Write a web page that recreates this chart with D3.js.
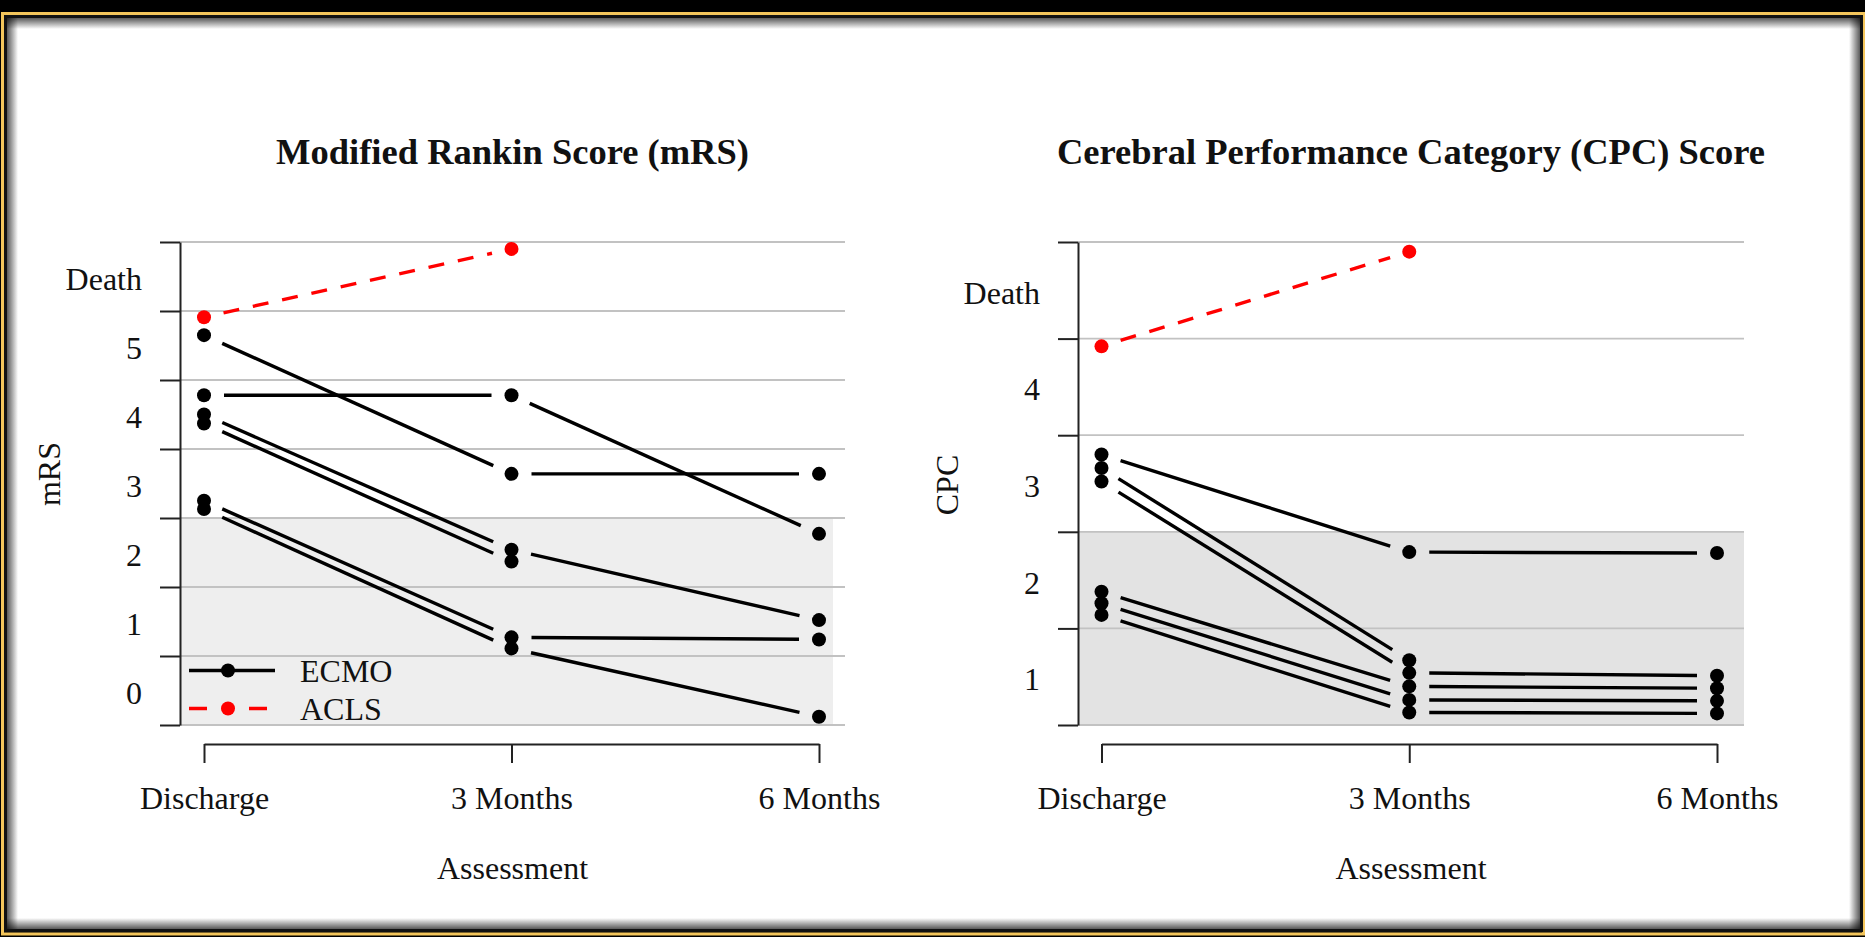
<!DOCTYPE html>
<html><head><meta charset="utf-8">
<script src="https://cdn.jsdelivr.net/npm/d3@7"></script>
<style>html,body{margin:0;padding:0;background:#000;overflow:hidden}</style>
</head><body>
<svg id="chart" width="1865" height="937"></svg>
<script>
// ---------------- data ----------------
const assessments = ["Discharge", "3 Months", "6 Months"];
const mrsTickLabels = ["0", "1", "2", "3", "4", "5", "Death"];
const mrsTickValues = [0, 1, 2, 3, 4, 5, 6];
const cpcTickLabels = ["1", "2", "3", "4", "Death"];
const cpcTickValues = [1, 2, 3, 4, 5];
const groups = ["ECMO", "ACLS"];
// plotted (jittered) score positions per patient; null = not assessed
const mrsECMO = [
  [5.15, 3.14, 3.14],
  [4.28, 4.28, 2.27],
  [4.00, 2.04, 1.02],
  [3.87, 1.87, null],
  [2.75, 0.77, 0.74],
  [2.63, 0.61, -0.38]
];
const mrsACLS = [[5.41, 6.40, null]];
const cpcECMO = [
  [3.30, 2.29, 2.28],
  [3.16, 1.17, null],
  [3.02, 1.04, 1.01],
  [1.88, 0.90, 0.88],
  [1.76, 0.76, 0.75],
  [1.64, 0.63, 0.62]
];
const cpcACLS = [[4.42, 5.40, null]];

// ---------------- drawing ----------------
const W = 1865, H = 937;
const svg = d3.select("#chart");
const FONT = "'Liberation Serif','Times New Roman',serif";
const LABEL_SIZE = 32, TITLE_SIZE = 36.5;

// frame
svg.append("rect").attr("width", W).attr("height", H).attr("fill", "#000");
svg.append("rect").attr("x", 2.5).attr("y", 13.5).attr("width", 1861).attr("height", 920.5)
  .attr("fill", "none").attr("stroke", "#f3c55b").attr("stroke-width", 3);
svg.append("rect").attr("x", 4).attr("y", 15).attr("width", 1859).attr("height", 917).attr("fill", "#111");
svg.append("rect").attr("x", 7).attr("y", 18).attr("width", 1853).attr("height", 911).attr("fill", "#fff");
const defs = svg.append("defs");
function grad(id, x1, y1, x2, y2) {
  const gr = defs.append("linearGradient").attr("id", id)
    .attr("x1", x1).attr("y1", y1).attr("x2", x2).attr("y2", y2);
  gr.append("stop").attr("offset", "0").attr("stop-color", "#000").attr("stop-opacity", 0.65);
  gr.append("stop").attr("offset", "1").attr("stop-color", "#000").attr("stop-opacity", 0);
}
grad("gL", 0, 0, 1, 0); grad("gT", 0, 0, 0, 1); grad("gR", 1, 0, 0, 0); grad("gB", 0, 1, 0, 0);
svg.append("rect").attr("x", 7).attr("y", 18).attr("width", 11).attr("height", 911).attr("fill", "url(#gL)");
svg.append("rect").attr("x", 7).attr("y", 18).attr("width", 1853).attr("height", 11).attr("fill", "url(#gT)");
svg.append("rect").attr("x", 1849).attr("y", 18).attr("width", 11).attr("height", 911).attr("fill", "url(#gR)");
svg.append("rect").attr("x", 7).attr("y", 918).attr("width", 1853).attr("height", 11).attr("fill", "url(#gB)");

const panels = [
  { title: "Modified Rankin Score (mRS)", ylab: "mRS", ecmo: mrsECMO, acls: mrsACLS,
    tickValues: mrsTickValues, tickLabels: mrsTickLabels, yDomain: [-0.5, 6.5],
    axisX: 180, xRange: [204, 819], gridRight: 845, shadeRight: 833, shadeTop: 2.5,
    shadeColor: "#eeeeee", ylabX: 50, ylabY: 474, legend: true },
  { title: "Cerebral Performance Category (CPC) Score", ylab: "CPC", ecmo: cpcECMO, acls: cpcACLS,
    tickValues: cpcTickValues, tickLabels: cpcTickLabels, yDomain: [0.5, 5.5],
    axisX: 1078, xRange: [1101.5, 1717], gridRight: 1744, shadeRight: 1744, shadeTop: 2.5,
    shadeColor: "#e3e3e3", ylabX: 948, ylabY: 485, legend: false }
];

const GAP = 20, R = 7;

function gapSegments(vals, x, y) {
  const segs = [];
  for (let i = 0; i < vals.length - 1; i++) {
    if (vals[i] == null || vals[i + 1] == null) continue;
    const x0 = x(assessments[i]), y0 = y(vals[i]);
    const x1 = x(assessments[i + 1]), y1 = y(vals[i + 1]);
    const L = Math.hypot(x1 - x0, y1 - y0), ux = (x1 - x0) / L, uy = (y1 - y0) / L;
    segs.push([x0 + ux * GAP, y0 + uy * GAP, x1 - ux * GAP, y1 - uy * GAP]);
  }
  return segs;
}

panels.forEach(p => {
  const x = d3.scalePoint().domain(assessments).range(p.xRange);
  const y = d3.scaleLinear().domain(p.yDomain).range([725, 242]);
  const g = svg.append("g");
  const bounds = d3.range(p.yDomain[0], p.yDomain[1] + 0.001, 1);

  // shaded "good outcome" band
  g.append("rect").attr("x", p.axisX).attr("y", y(p.shadeTop))
    .attr("width", p.shadeRight - p.axisX).attr("height", y(p.yDomain[0]) - y(p.shadeTop))
    .attr("fill", p.shadeColor);
  // grid lines
  g.selectAll("line.grid").data(bounds).join("line").attr("class", "grid")
    .attr("x1", p.axisX).attr("x2", p.gridRight)
    .attr("y1", d => y(d)).attr("y2", d => y(d))
    .attr("stroke", "#c2c2c2").attr("stroke-width", 1.8);

  // y axis
  const yAxis = d3.axisLeft(y).tickValues(bounds).tickFormat("").tickSize(20).tickSizeOuter(0);
  const ya = g.append("g").attr("transform", `translate(${p.axisX},0)`).call(yAxis);
  ya.selectAll("path,line").attr("stroke", "#222").attr("stroke-width", 2);
  g.selectAll("text.ylab").data(p.tickValues).join("text").attr("class", "ylab")
    .attr("x", p.axisX - 38).attr("y", d => y(d)).attr("dy", "0.42em")
    .attr("text-anchor", "end").attr("font-family", FONT).attr("font-size", LABEL_SIZE).attr("fill", "#111")
    .text((d, i) => p.tickLabels[i]);

  // x axis
  const xAxis = d3.axisBottom(x).tickSize(19).tickSizeOuter(0);
  const xa = g.append("g").attr("transform", "translate(0,744)").call(xAxis);
  xa.selectAll("path,line").attr("stroke", "#222").attr("stroke-width", 2);
  xa.selectAll("text").attr("y", 65).attr("dy", null).attr("font-family", FONT)
    .attr("font-size", LABEL_SIZE).attr("fill", "#111");

  // titles
  const cx = (p.axisX + p.gridRight) / 2;
  g.append("text").attr("x", cx).attr("y", 164).attr("text-anchor", "middle")
    .attr("font-family", FONT).attr("font-weight", "bold").attr("font-size", TITLE_SIZE).attr("fill", "#111")
    .text(p.title);
  g.append("text").attr("x", cx).attr("y", 879).attr("text-anchor", "middle")
    .attr("font-family", FONT).attr("font-size", LABEL_SIZE).attr("fill", "#111").text("Assessment");
  g.append("text").attr("transform", `translate(${p.ylabX + 10},${p.ylabY}) rotate(-90)`)
    .attr("text-anchor", "middle").attr("font-family", FONT).attr("font-size", LABEL_SIZE).attr("fill", "#111")
    .text(p.ylab);

  // series
  const series = [
    { rows: p.ecmo, color: "#000", dash: null },
    { rows: p.acls, color: "#ff0000", dash: "16,14" }
  ];
  series.forEach(s => {
    s.rows.forEach(vals => {
      g.selectAll(null).data(gapSegments(vals, x, y)).join("line")
        .attr("x1", d => d[0]).attr("y1", d => d[1]).attr("x2", d => d[2]).attr("y2", d => d[3])
        .attr("stroke", s.color).attr("stroke-width", 3.4).attr("stroke-dasharray", s.dash);
      g.selectAll(null).data(vals.map((v, i) => ({ v, i })).filter(d => d.v != null)).join("circle")
        .attr("cx", d => x(assessments[d.i])).attr("cy", d => y(d.v)).attr("r", R).attr("fill", s.color);
    });
  });

  // legend
  if (p.legend) {
    const lg = g.append("g");
    const items = [{ name: groups[0], color: "#000", dash: null, y: 670.5 },
                   { name: groups[1], color: "#ff0000", dash: "18,42", y: 708.5 }];
    items.forEach(it => {
      lg.append("line").attr("x1", 189).attr("x2", 275).attr("y1", it.y).attr("y2", it.y)
        .attr("stroke", it.color).attr("stroke-width", 3.4).attr("stroke-dasharray", it.dash);
      lg.append("circle").attr("cx", 228).attr("cy", it.y).attr("r", R).attr("fill", it.color);
      lg.append("text").attr("x", 300).attr("y", it.y).attr("dy", "0.36em")
        .attr("font-family", FONT).attr("font-size", LABEL_SIZE).attr("fill", "#111").text(it.name);
    });
  }
});
</script>
</body></html>
